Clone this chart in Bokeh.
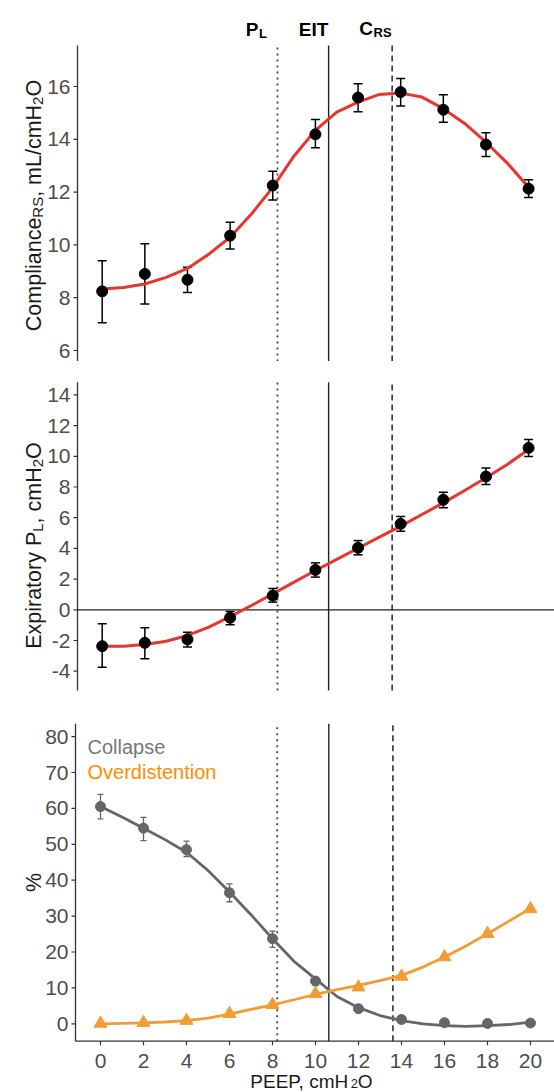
import math
from bokeh.plotting import figure
from bokeh.models import Range1d
from bokeh.layouts import column
from bokeh.core.properties import value
from bokeh.embed import file_html
from bokeh.resources import INLINE

# ---------------- data ----------------
peep = [0, 2, 4, 6, 8, 10, 12, 14, 16, 18, 20]
fit_x = [0, 1, 2, 3, 4, 5, 6, 7, 8, 9, 10, 11, 12, 13, 14, 15, 16, 17, 18, 19, 20]

crs_mean = [8.24, 8.90, 8.68, 10.35, 12.25, 14.19, 15.58, 15.79, 15.12, 13.80, 12.13]
crs_low = [7.05, 7.76, 8.20, 9.84, 11.70, 13.68, 15.04, 15.26, 14.65, 13.35, 11.80]
crs_high = [9.40, 10.04, 9.15, 10.86, 12.79, 14.75, 16.10, 16.30, 15.69, 14.25, 12.47]
crs_fit = [8.33, 8.39, 8.52, 8.77, 9.11, 9.65, 10.29, 11.17, 12.18, 13.37, 14.34,
           15.03, 15.41, 15.70, 15.75, 15.60, 15.16, 14.60, 13.89, 13.10, 12.18]

pl_mean = [-2.37, -2.15, -1.93, -0.52, 0.93, 2.60, 4.04, 5.60, 7.17, 8.68, 10.55]
pl_low = [-3.74, -3.19, -2.43, -0.98, 0.50, 2.13, 3.58, 5.12, 6.65, 8.16, 9.99]
pl_high = [-0.91, -1.17, -1.46, -0.11, 1.39, 3.06, 4.51, 6.08, 7.66, 9.23, 11.10]
pl_fit = [-2.37, -2.37, -2.26, -2.05, -1.67, -1.13, -0.44, 0.28, 1.04, 1.80, 2.56,
          3.28, 4.01, 4.73, 5.45, 6.21, 6.97, 7.77, 8.60, 9.47, 10.44]

collapse_mean = [60.5, 54.5, 48.5, 36.5, 23.7, 11.9, 4.2, 1.2, 0.3, 0.1, 0.2]
collapse_low = [57.1, 51.0, 46.6, 34.0, 21.3, 10.7, 3.6, 0.8, 0.0, -0.2, -0.1]
collapse_high = [63.9, 57.5, 50.9, 39.0, 25.8, 12.8, 4.8, 1.6, 0.6, 0.4, 0.5]
collapse_fit = [60.5, 57.6, 54.5, 51.3, 47.8, 42.7, 36.7, 30.4, 23.7, 17.4, 12.5,
                7.6, 4.5, 2.3, 0.9, 0.0, -0.5, -0.7, -0.5, -0.2, 0.45]

over_mean = [0.1, 0.3, 0.9, 2.8, 5.3, 8.4, 10.2, 13.2, 18.6, 25.1, 32.0]
over_fit = [0.0, 0.1, 0.25, 0.5, 0.9, 1.6, 2.7, 4.0, 5.3, 6.7, 8.2,
            9.5, 10.7, 12.0, 13.5, 15.8, 18.6, 21.7, 25.1, 28.6, 32.2]

ref_peep = [8.22, 10.62, 13.6]          # P_L, EIT, C_RS optimal PEEP
ref_dash = ["2 4", "solid", "6 4"]

crs_ticks = [6, 8, 10, 12, 14, 16]
pl_ticks = [-4, -2, 0, 2, 4, 6, 8, 10, 12, 14]
pct_ticks = [0, 10, 20, 30, 40, 50, 60, 70, 80]
x_ticks = [0, 2, 4, 6, 8, 10, 12, 14, 16, 18, 20]

# ---------------- styling ----------------
FONT = "Liberation Sans"
TICK_SIZE = 21
TITLE_SIZE = 21.5
SUB_SIZE = 15
RED = "#E8362F"
GRAY = "#666666"
ORANGE = "#F39C35"
AXIS_COL = "#333333"
TICK_COL = "#4d4d4d"
TITLE_COL = "#1a1a1a"

# Arial / Liberation Sans advance widths (1/1000 em)
W = {'C': 722, 'o': 556, 'm': 833, 'p': 556, 'l': 222, 'i': 222, 'a': 556, 'n': 556,
     'c': 500, 'e': 556, 'R': 722, 'S': 667, ',': 278, ' ': 278, 'L': 556, '/': 278,
     'H': 722, '2': 556, 'O': 778, 'E': 667, 'x': 500, 'r': 333, 't': 278, 'y': 500,
     'P': 667, '%': 889, 'I': 278, 'T': 611}


def tw(s, size):
    return sum(W.get(ch, 556) for ch in s) / 1000.0 * size


class Panel:
    """A figure whose frame covers the whole canvas; page pixels <-> data helpers."""

    def __init__(self, page_top, height, x0_px, x_scale, y_ref_val, y_ref_px, y_scale):
        self.page_top = page_top
        self.h = height
        self.x0_px = x0_px
        self.xs = x_scale
        self.yv = y_ref_val
        self.yp = y_ref_px
        self.ys = y_scale
        xr = (self.px(0), self.px(554))
        yr = (self.py(page_top + height), self.py(page_top))
        p = figure(width=554, height=height, x_range=Range1d(*xr), y_range=Range1d(*yr),
                   output_backend="svg", toolbar_location=None,
                   x_axis_location=None, y_axis_location=None,
                   min_border=0, min_border_left=0, min_border_right=0,
                   min_border_top=0, min_border_bottom=0)
        p.outline_line_color = None
        p.xgrid.grid_line_color = None
        p.ygrid.grid_line_color = None
        p.background_fill_color = "white"
        p.border_fill_color = "white"
        self.p = p

    def px(self, page_x):
        return (page_x - self.x0_px) / self.xs

    def py(self, page_y):
        return self.yv + (self.yp - page_y) / self.ys

    def text(self, texts, xs, ys, size, color, align="left", baseline="alphabetic",
             angle=0.0, bold=False):
        self.p.text(x=xs, y=ys, text=texts, angle=angle,
                    text_font=value(FONT), text_font_size=value(f"{size}px"),
                    text_color=color, text_align=align, text_baseline=baseline,
                    text_font_style="bold" if bold else "normal")

    def label(self, t, page_x, page_y, size, color, **kw):
        self.text([t], [self.px(page_x)], [self.py(page_y)], size, color, **kw)

    def rot_label(self, pieces, base_x, center_y):
        total = sum(tw(t, s) for t, s, _ in pieces)
        cur = center_y + total / 2.0
        for t, s, shift in pieces:
            self.label(t, base_x + shift, cur, s, TITLE_COL, angle=math.pi / 2)
            cur -= tw(t, s)

    def yaxis(self, ticks, ax_px, top_px, bot_px):
        p = self.p
        ax = self.px(ax_px)
        p.segment(x0=[ax], y0=[self.py(bot_px)], x1=[ax], y1=[self.py(top_px)],
                  line_color=AXIS_COL, line_width=1.3)
        tl = 4.0 / self.xs
        p.segment(x0=[ax - tl] * len(ticks), y0=ticks, x1=[ax] * len(ticks), y1=ticks,
                  line_color=AXIS_COL, line_width=1.2)
        self.text([str(t) for t in ticks], [ax - 7.0 / self.xs] * len(ticks), ticks,
                  TICK_SIZE, TICK_COL, align="right", baseline="middle")
        self.ax = ax
        self.ylo = self.py(bot_px)
        self.yhi = self.py(top_px)

    def refs(self):
        for xv, dash, col, lw in zip(ref_peep, ref_dash,
                                     ["#444444", "#222222", "#333333"], [1.8, 1.4, 1.6]):
            self.p.segment(x0=[xv], y0=[self.ylo], x1=[xv], y1=[self.yhi],
                           line_color=col, line_dash=dash, line_width=lw)

    def errbars(self, lows, highs, cap_px, color, lw):
        cap = cap_px / self.xs
        x0 = [x - cap for x in peep]
        x1 = [x + cap for x in peep]
        p = self.p
        p.segment(x0=peep, y0=lows, x1=peep, y1=highs, line_color=color, line_width=lw)
        p.segment(x0=x0, y0=lows, x1=x1, y1=lows, line_color=color, line_width=lw)
        p.segment(x0=x0, y0=highs, x1=x1, y1=highs, line_color=color, line_width=lw)


# ---------------- panel 1 : compliance ----------------
P1 = Panel(0, 361, 101.7, 21.32, 16, 86, 26.4)
p1 = P1.p
P1.yaxis(crs_ticks, 77, 45, 361)
P1.refs()
P1.errbars(crs_low, crs_high, 4.5, "black", 1.5)
p1.line(fit_x, crs_fit, line_color=RED, line_width=3, line_join="round")
p1.scatter(peep, crs_mean, size=11, color="black")
P1.rot_label([("Compliance", TITLE_SIZE, 0), ("RS", SUB_SIZE, 4),
              (", mL/cmH", TITLE_SIZE, 0), ("2", SUB_SIZE, 4), ("O", TITLE_SIZE, 0)],
             33, 205)
P1.label("P", 258, 28.5, 19, "black", bold=True, align="right")
P1.label("L", 258.5, 32.5, 13, "black", bold=True)
P1.label("EIT", 313, 28.5, 19, "black", bold=True, align="center")
P1.label("C", 372.5, 28, 19, "black", bold=True, align="right")
P1.label("RS", 373, 31.5, 13, "black", bold=True)

# ---------------- panel 2 : expiratory PL ----------------
P2 = Panel(361, 344, 101.7, 21.32, 0, 609.3, 15.35)
p2 = P2.p
P2.yaxis(pl_ticks, 77, 381.7, 690)
P2.refs()
p2.segment(x0=[P2.ax], y0=[0], x1=[P2.px(554)], y1=[0], line_color="#222222", line_width=1.3)
P2.errbars(pl_low, pl_high, 4.5, "black", 1.5)
p2.line(fit_x, pl_fit, line_color=RED, line_width=3, line_join="round")
p2.scatter(peep, pl_mean, size=11, color="black")
P2.rot_label([("Expiratory P", TITLE_SIZE, 0), ("L", SUB_SIZE, 4),
              (", cmH", TITLE_SIZE, 0), ("2", SUB_SIZE, 4), ("O", TITLE_SIZE, 0)],
             33, 545)

# ---------------- panel 3 : collapse / overdistention ----------------
P3 = Panel(705, 387, 100, 21.5, 0, 1023.3, 3.59)
p3 = P3.p
P3.yaxis(pct_ticks, 75, 723.3, 1040.7)
yb = P3.ylo
p3.segment(x0=[P3.ax], y0=[yb], x1=[P3.px(554)], y1=[yb], line_color=AXIS_COL, line_width=1.3)
tlen = 4.0 / P3.ys
p3.segment(x0=x_ticks, y0=[yb] * len(x_ticks), x1=x_ticks, y1=[yb - tlen] * len(x_ticks),
           line_color=AXIS_COL, line_width=1.2)
P3.text([str(t) for t in x_ticks], x_ticks, [P3.py(1060)] * len(x_ticks), TICK_SIZE,
        TICK_COL, align="center", baseline="middle")
P3.refs()
P3.errbars(collapse_low, collapse_high, 3, GRAY, 1.3)
p3.line(fit_x, collapse_fit, line_color=GRAY, line_width=2.8, line_join="round")
p3.line(fit_x, over_fit, line_color=ORANGE, line_width=2.8, line_join="round")
p3.scatter(peep, collapse_mean, size=10, color=GRAY)
p3.scatter(peep, over_mean, size=13, marker="triangle", color=ORANGE)
P3.label("Collapse", 87, 746.7, 20, "#777777", baseline="middle")
P3.label("Overdistention", 87, 771.7, 20, "#FF8C00", baseline="middle")
P3.rot_label([("%", TITLE_SIZE, 0)], 33, 882)
xt = [("PEEP, cmH", 19, 0), ("2", 13, 2), ("O", 19, 0)]
total = sum(tw(t, s) for t, s, _ in xt)
cur = 311 - total / 2.0
for t, s, shift in xt:
    P3.label(t, cur, 1081 + shift, s, TITLE_COL)
    cur += tw(t, s)

layout = column(p1, p2, p3)
open("out.html", "w").write(file_html(layout, INLINE))
